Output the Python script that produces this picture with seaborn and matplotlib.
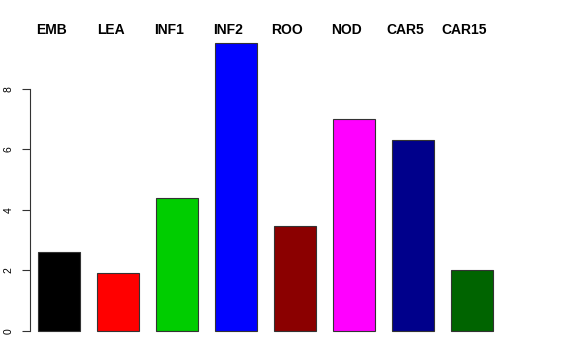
import matplotlib
matplotlib.use("Agg")
import matplotlib.pyplot as plt
import matplotlib.transforms as mtrans
import seaborn as sns

# values
categories = ["EMB", "LEA", "INF1", "INF2", "ROO", "NOD", "CAR5", "CAR15"]
values = [2.61, 1.92, 4.40, 9.52, 3.48, 7.01, 6.32, 2.02]
colours = ["#000000", "#FF0000", "#00CD00", "#0000FF",
           "#8B0000", "#FF00FF", "#00008B", "#006400"]
y_ticks = [0, 2, 4, 6, 8]

sns.set_style("white")
plt.rcParams["font.family"] = ["Liberation Sans", "DejaVu Sans"]
plt.rcParams["text.color"] = "black"
plt.rcParams["ytick.color"] = "black"

fig = plt.figure(figsize=(5.76, 3.6), dpi=100)
ax = fig.add_axes([29.5 / 576, 17.5 / 360, (512 - 29.5) / 576, 311 / 360])

sns.barplot(
    x=categories,
    y=values,
    hue=categories,
    palette=colours,
    saturation=1,
    legend=False,
    width=0.71,
    edgecolor="#333333",
    linewidth=0.8,
    ax=ax,
)

ax.set_xlim(-0.5, 7.68)
ax.set_ylim(-0.38, 9.90)
ax.set_xticks([])
ax.set_xlabel("")
ax.set_ylabel("")

for s in ["top", "right", "bottom"]:
    ax.spines[s].set_visible(False)
ax.spines["left"].set_bounds(0, 8)
ax.spines["left"].set_color("#333333")
ax.spines["left"].set_linewidth(0.8)

ax.set_yticks(y_ticks)
ax.set_yticklabels([str(t) for t in y_ticks], rotation=90, va="center", fontsize=7.5)
ax.tick_params(axis="y", direction="out", length=5.8, width=0.8, pad=5.5,
               left=True, color="#333333", labelcolor="black")

# names along the top, bold, slightly left of bar centres
trans = mtrans.blended_transform_factory(ax.transData, ax.transAxes)
shift = mtrans.ScaledTranslation(-7.5 / 100, -2.5 / 100, fig.dpi_scale_trans)
for i, name in enumerate(categories):
    ax.text(i, 1.0, name, transform=trans + shift, ha="center", va="baseline",
            fontsize=10, fontweight="bold", color="black")

fig.savefig("out.png", dpi=100)
